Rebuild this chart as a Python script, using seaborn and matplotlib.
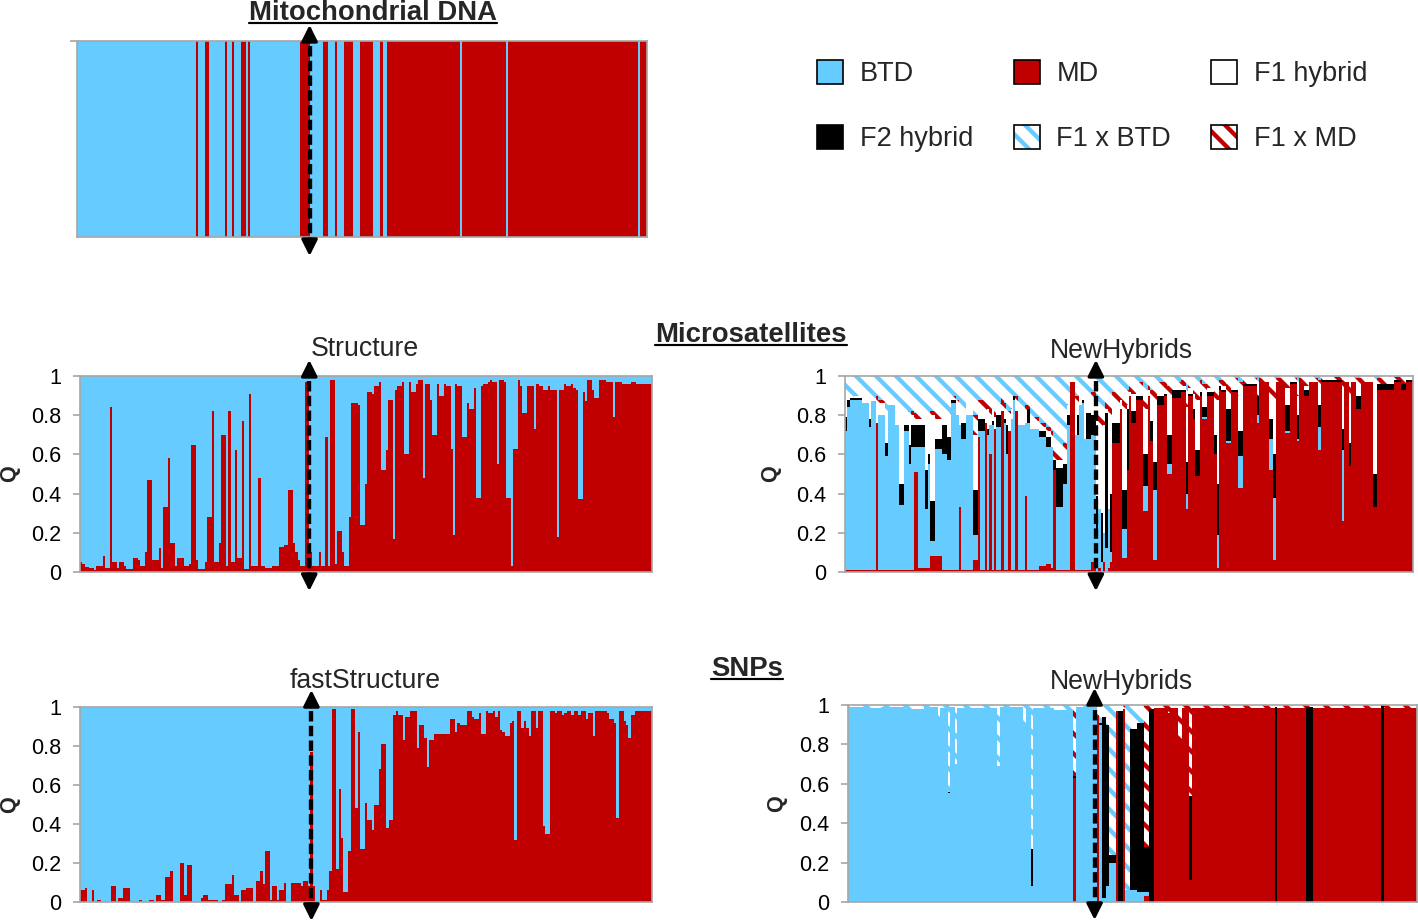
import numpy as np
import pandas as pd
import matplotlib
matplotlib.use("Agg")
import matplotlib.pyplot as plt
import matplotlib.transforms as mtransforms
from matplotlib.patches import Patch
from matplotlib.lines import Line2D
import seaborn as sns

# ---------------- data ----------------
# mtDNA haplotype of each individual, run-length coded (haplotype, count): 0 = BTD, 1 = MD
mt_runs = [(0, 52), (1, 1), (0, 3), (1, 2), (0, 7), (1, 1), (0, 2), (1, 1), (0, 3), (1, 2),
           (0, 1), (1, 1), (0, 22), (1, 4),
           (0, 6), (1, 2), (0, 3), (1, 1), (0, 3), (1, 4), (0, 3), (1, 6), (0, 3), (1, 1),
           (0, 2), (1, 32), (0, 1), (1, 19), (0, 1), (1, 57), (0, 1), (1, 3)]

# Structure (microsatellites): MD membership Q, run-length coded (Q, count)
structure_runs = [
    (0.05, 1), (0.04, 1), (0.025, 2), (0.02, 2), (0.01, 1), (0.03, 1), (0.03, 2), (0.08, 1), (0.02, 2),
    (0.84, 1), (0.05, 2), (0.02, 1), (0.05, 2), (0.03, 1), (0.015, 3), (0.07, 2), (0.06, 1), (0.03, 2),
    (0.10, 1), (0.47, 2), (0.06, 3), (0.12, 1), (0.02, 1), (0.33, 2), (0.58, 1), (0.15, 2), (0.03, 1),
    (0.07, 3), (0.03, 2), (0.04, 1), (0.65, 2), (0.06, 1), (0.015, 3), (0.05, 1), (0.28, 2), (0.82, 1),
    (0.05, 2), (0.15, 1), (0.70, 2), (0.03, 1), (0.82, 1), (0.05, 2), (0.62, 1), (0.07, 2), (0.77, 1),
    (0.015, 2), (0.91, 1), (0.03, 3), (0.48, 1), (0.03, 2), (0.02, 3), (0.03, 3), (0.13, 2), (0.14, 2),
    (0.42, 2), (0.15, 1), (0.10, 1), (0.06, 1), (0.03, 2), (0.97, 2),
    (0.10, 1), (0.03, 1), (0.03, 2), (0.10, 1), (0.03, 2), (0.69, 1), (0.03, 1), (0.98, 2), (0.04, 1),
    (0.21, 2), (0.10, 1), (0.03, 2), (0.28, 1), (0.86, 3), (0.85, 1), (0.24, 2), (0.45, 1), (0.92, 2),
    (0.91, 1), (0.95, 2), (0.97, 1), (0.52, 2), (0.62, 1), (0.88, 2), (0.17, 1), (0.93, 1), (0.95, 2),
    (0.97, 1), (0.60, 2), (0.97, 1), (0.92, 2), (0.96, 1), (0.98, 2), (0.48, 1), (0.96, 2), (0.88, 1),
    (0.70, 2), (0.96, 1), (0.90, 2), (0.96, 1), (0.95, 2), (0.63, 1), (0.19, 1), (0.96, 1), (0.95, 2),
    (0.69, 2), (0.86, 1), (0.83, 2), (0.94, 1), (0.38, 2), (0.95, 1), (0.96, 2), (0.97, 1), (0.98, 1),
    (0.97, 2), (0.55, 1), (0.98, 2), (0.97, 1), (0.38, 2), (0.03, 1), (0.63, 2), (0.98, 1), (0.95, 1),
    (0.81, 2), (0.95, 3), (0.73, 1), (0.96, 1), (0.95, 2), (0.93, 2), (0.95, 1), (0.93, 3), (0.18, 1),
    (0.93, 2), (0.96, 1), (0.95, 2), (0.96, 1), (0.94, 1), (0.93, 1), (0.37, 2), (0.92, 1), (0.87, 1),
    (0.98, 2), (0.93, 1), (0.89, 2), (0.98, 3), (0.97, 3), (0.79, 1), (0.97, 3), (0.96, 4), (0.97, 2),
    (0.96, 7)]

# fastStructure (SNPs): MD membership Q, run-length coded (Q, count)
faststructure_runs = [
    (0.06, 2), (0.07, 1), (0.0, 2), (0.06, 1), (0.0, 1), (0.01, 2), (0.0, 4), (0.08, 2), (0.0, 1),
    (0.02, 2), (0.07, 3), (0.0, 4), (0.01, 1), (0.0, 3), (0.01, 2), (0.0, 1), (0.035, 2), (0.01, 2),
    (0.13, 2), (0.16, 1), (0.0, 3), (0.20, 2), (0.035, 1), (0.19, 2), (0.0, 4), (0.02, 1), (0.035, 2),
    (0.01, 4), (0.0, 2), (0.01, 1), (0.09, 3), (0.14, 1), (0.035, 2), (0.0, 1), (0.06, 2), (0.07, 3),
    (0.0, 1), (0.11, 2), (0.16, 1), (0.09, 1), (0.26, 2), (0.01, 1), (0.08, 2), (0.01, 1), (0.06, 2),
    (0.10, 1), (0.0, 2), (0.10, 3), (0.10, 1), (0.08, 1), (0.11, 2), (0.08, 1), (0.77, 1),
    (0.08, 1), (0.0, 2), (0.06, 1), (0.01, 2), (0.06, 1), (0.16, 1), (0.99, 2), (0.17, 1), (0.58, 1),
    (0.33, 1), (0.05, 2), (0.26, 1), (0.99, 2), (0.48, 1), (0.87, 1), (0.27, 2), (0.51, 1), (0.42, 2),
    (0.37, 1), (0.50, 2), (0.68, 1), (0.81, 2), (0.38, 1), (0.42, 2), (0.96, 1), (0.98, 1), (0.96, 2),
    (0.83, 1), (0.95, 2), (0.98, 3), (0.79, 1), (0.91, 2), (0.84, 1), (0.69, 1), (0.83, 2), (0.86, 7),
    (0.94, 2), (0.87, 1), (0.92, 1), (0.91, 3), (0.98, 2), (0.95, 1), (0.94, 2), (0.97, 1), (0.86, 2),
    (0.98, 1), (0.97, 2), (0.98, 1), (0.95, 1), (0.98, 1), (0.88, 1), (0.87, 1), (0.85, 2), (0.92, 1),
    (0.93, 1), (0.32, 1), (0.98, 2), (0.89, 1), (0.93, 1), (0.89, 1), (0.85, 1), (0.98, 2), (0.89, 1),
    (0.98, 2), (0.39, 1), (0.35, 2), (0.98, 2), (0.97, 1), (0.98, 2), (0.96, 1), (0.97, 1), (0.98, 2),
    (0.96, 1), (0.98, 2), (0.96, 1), (0.98, 2), (0.94, 1), (0.97, 2), (0.85, 1), (0.98, 5), (0.97, 1),
    (0.94, 2), (0.92, 1), (0.43, 1), (0.98, 2), (0.93, 1), (0.91, 1), (0.84, 1), (0.96, 2), (0.98, 7)]

# NewHybrids posteriors, rows = (count, MD, BTD, F2, F1, F1xMD); F1xBTD is the rest up to 1
nh_micro_rows = [
    (1, .01, .71, .07, .09, 0), (1, .01, .83, .04, .01, 0), (2, .01, .87, .01, 0, 0),
    (3, .01, .87, .01, .01, 0), (3, .01, .85, 0, .04, 0), (1, .01, .73, .04, .10, 0),
    (2, .01, .86, 0, .02, 0), (1, .76, 0, 0, .10, .04), (3, .01, .79, 0, .06, .02),
    (1, .01, .58, .07, .14, 0), (3, .01, .84, 0, .03, 0), (2, .01, .74, 0, .07, .02),
    (2, .01, .33, .11, .35, .02), (2, .01, .71, .03, .05, .02), (1, .01, .54, .10, .10, .03),
    (1, .01, .63, .11, .05, .02), (2, .51, .13, .11, .03, .03), (3, .02, .62, .11, .03, .03),
    (1, .02, .30, .20, .25, .02), (1, .02, .53, .05, .18, .03), (2, .08, .08, .20, .44, .02),
    (3, .08, .55, .05, .10, .05), (2, .01, .59, .15, .05, .02), (2, .01, .56, .12, .10, .02),
    (2, .01, .85, .02, 0, .02), (1, .01, .79, 0, .05, .03), (1, .33, .42, 0, .07, .03),
    (2, .01, .67, .08, .05, .02), (3, .01, .79, 0, .06, .03), (2, .06, .13, .23, .28, .10),
    (1, .69, .03, .06, .05, .05), (2, .01, .71, .06, .05, .05), (1, .76, 0, 0, .06, .06),
    (1, .01, .69, .03, .10, .04), (1, .60, .15, 0, .05, .05), (1, .01, .74, .02, .06, .04),
    (1, .73, 0, 0, .06, .06), (2, .01, .73, .06, .03, .03), (1, .82, 0, 0, .02, .06),
    (1, .01, .75, .02, .05, .03), (1, .01, .59, .15, .02, .03), (1, .72, 0, 0, .05, .05),
    (1, .01, .77, 0, .05, .02), (1, .01, .87, .02, 0, 0), (1, .82, 0, 0, .04, .04),
    (3, .01, .74, 0, .06, .02), (1, .39, .37, 0, .05, .04), (1, .01, .75, .07, 0, .02),
    (4, .01, .72, 0, .04, .02), (3, .03, .66, .03, .02, .02), (2, .04, .60, .05, .03, .02),
    (1, .02, .62, 0, .05, .03), (1, .52, 0, .05, 0, .10), (3, .01, .32, .20, .04, .05),
    (2, .01, .44, .10, .06, .05), (1, .01, .74, .05, .05, .03), (2, .97, 0, 0, 0, 0),
    (1, .01, .69, 0, .15, .05), (1, .01, .69, .10, .05, .05), (1, .01, .84, 0, .05, 0),
    (1, .01, .85, .02, .02, .02), (1, .01, .67, 0, .20, .04), (2, .01, .67, .13, .05, .04),
    (2, .05, .65, .10, .08, .04),
    (1, 0, .19, .20, .41, .05), (1, .02, .30, 0, .38, .10), (1, 0, .05, .25, .40, .10),
    (1, .05, .15, 0, .55, .08), (1, 0, .12, .69, .02, .05), (1, .02, .30, 0, .45, .08),
    (1, .05, .05, .30, .40, .05), (3, .66, 0, .10, .09, .07), (1, .83, 0, 0, .05, .06),
    (2, .07, .15, .20, .41, .08), (1, .52, 0, .31, .02, .08), (1, .90, 0, 0, .02, .05),
    (2, .76, 0, .06, .09, .05), (3, .88, 0, .02, .03, .04), (2, .31, .13, .16, .23, .09),
    (1, .90, 0, 0, .03, .04), (1, .67, 0, .10, .08, .08), (2, .06, .36, .14, .29, .08),
    (3, .85, 0, .05, .02, .05), (1, .90, 0, .01, .02, .04), (2, .50, .05, .15, .17, .08),
    (4, .89, 0, .04, 0, .04), (2, .92, 0, .01, .02, .03), (1, .32, .08, .16, .28, .09),
    (2, .90, 0, .01, .03, .04), (1, .78, 0, .05, .08, .05), (2, .49, 0, .13, .26, .07),
    (1, .90, 0, .02, .02, .04), (2, .78, .01, .05, .06, .06), (3, .90, 0, .02, .02, .04),
    (1, .60, 0, .10, .18, .07), (1, .02, .17, .26, .43, .08), (1, .93, 0, .02, 0, .03),
    (2, .92, 0, .01, .02, .03), (2, .66, .01, .16, .07, .06), (3, .92, 0, .01, .03, .03),
    (2, .43, .16, .13, .18, .07), (6, .95, 0, .01, 0, .03), (1, .76, .04, .10, 0, .05),
    (4, .97, 0, 0, 0, .02), (2, .52, .16, .10, .12, .07), (1, .06, .32, .22, .23, .10),
    (4, .97, 0, 0, 0, .02), (2, .71, .01, .13, .09, .04), (3, .96, 0, .01, 0, .02),
    (1, .67, .01, .12, .10, .06), (2, .97, 0, 0, 0, .02), (2, .90, 0, .03, .02, .03),
    (4, .97, 0, 0, 0, .02), (1, .62, .12, .11, .09, .04), (9, .97, 0, .01, 0, .015),
    (1, .26, .36, .11, .21, .04), (2, .97, 0, 0, 0, .02), (1, .54, 0, .12, .25, .07),
    (2, .97, 0, 0, 0, .02), (2, .83, 0, .07, .06, .03), (5, .97, 0, 0, 0, .02),
    (2, .33, 0, .17, .43, .05), (7, .93, 0, .03, 0, .03), (3, .97, 0, .01, 0, .015),
    (2, .93, 0, .03, 0, .03), (3, .97, 0, .01, 0, .015)]

nh_snp_rows = [
    (8, 0, .99, 0, 0, 0), (6, 0, .985, 0, 0, 0), (10, 0, .99, 0, 0, 0), (8, 0, .98, 0, 0, 0),
    (6, 0, .99, 0, 0, 0), (1, 0, .94, 0, 0, 0), (3, 0, .985, 0, 0, 0), (1, 0, .555, .005, 0, 0),
    (2, 0, .99, 0, 0, 0), (1, 0, .70, 0, 0, 0), (17, 0, .985, 0, 0, 0), (1, 0, .69, 0, 0, 0),
    (10, 0, .99, 0, 0, 0), (1, 0, .91, 0, 0, 0), (2, 0, .985, 0, 0, 0), (1, 0, .08, .19, 0, 0),
    (9, 0, .985, 0, 0, 0), (8, 0, .975, 0, 0, 0), (1, .63, 0, .01, 0, .36), (8, 0, .99, 0, 0, 0),
    (1, 0, .99, 0, 0, 0), (1, .95, 0, 0, 0, .05), (1, 0, .90, .01, 0, 0), (2, 0, .02, .92, 0, 0),
    (1, 0, .08, .82, 0, 0), (3, 0, .20, .04, 0, 0), (1, .97, 0, 0, 0, .03), (2, 0, 0, .97, 0, 0),
    (1, .98, 0, 0, 0, .02), (2, 0, .06, 0, 0, 0), (3, 0, .06, .82, 0, 0), (3, 0, .05, .86, 0, 0),
    (2, .03, .02, .23, 0, .72), (2, 0, 0, .98, 0, .02), (6, .985, 0, 0, 0, .015), (1, .96, 0, 0, 0, .04),
    (3, .985, 0, 0, 0, .015), (2, .82, 0, 0, 0, .18), (3, .985, 0, 0, 0, .015), (1, .11, 0, .43, 0, .46),
    (35, .985, 0, 0, 0, .015), (1, 0, 0, .99, 0, .01), (12, .985, 0, 0, 0, .015), (3, 0, 0, .99, 0, .01),
    (29, .985, 0, 0, 0, .015), (1, 0, 0, 1, 0, 0), (14, .985, 0, 0, 0, .015)]

# position of the dashed arrow (in individuals from the left) in each panel
split_mt = 102
split_structure = 99
split_fast = 97.5
split_nh_micro = 106
split_nh_snp = 104

# ---------------- style ----------------
sns.set_theme(style="white")
plt.rcParams['font.family'] = ['Liberation Sans', 'DejaVu Sans']
plt.rcParams['hatch.linewidth'] = 2.6

BLUE = '#66CCFF'
RED = '#C00000'
FRAME = '#A6A6A6'
HATCH = '\\\\'

W, H, DPI = 1418, 923, 120
fig = plt.figure(figsize=(W / DPI, H / DPI), dpi=DPI)


def add_axes(x0, y0, x1, y1):
    return fig.add_axes([x0 / W, 1 - y1 / H, (x1 - x0) / W, (y1 - y0) / H])


def expand(runs):
    return np.concatenate([np.full(n, v, dtype=float) for v, n in runs])


def layer(ax, heights, fill, hatch_color=None):
    n0 = len(ax.patches)
    idx = np.arange(len(heights))
    sns.barplot(x=idx, y=heights, color=fill, width=1, saturation=1, linewidth=0,
                errorbar=None, ax=ax)
    for p in ax.patches[n0:]:
        p.set_antialiased(False)
        if hatch_color is not None:
            p.set_hatch(HATCH)
            p.set_edgecolor(hatch_color)
            p.set_linewidth(0)


def two_group(ax, q_md):
    layer(ax, np.ones_like(q_md), BLUE)
    layer(ax, q_md, RED)


def newhybrids(ax, rows):
    counts = [r[0] for r in rows]
    vals = np.repeat(np.array([r[1:] for r in rows], dtype=float), counts, axis=0)
    cum = np.cumsum(vals, axis=1)   # MD, +BTD, +F2, +F1, +F1xMD
    layer(ax, np.ones(len(vals)), 'white', BLUE)      # F1 x BTD fills to 1
    layer(ax, cum[:, 4], 'white', RED)                # F1 x MD
    layer(ax, cum[:, 3], 'white')                     # F1
    layer(ax, cum[:, 2], 'black')                     # F2
    layer(ax, cum[:, 1], BLUE)                        # BTD
    layer(ax, cum[:, 0], RED)                         # MD


def style_axes(ax, n, yticks=True, qx=-0.105):
    ax.set_xlim(-0.5, n - 0.5)
    ax.set_ylim(0, 1)
    ax.set_xticks([])
    ax.set_xlabel('')
    for s in ax.spines.values():
        s.set_color(FRAME)
        s.set_linewidth(1.0)
    if yticks:
        ax.set_yticks([0, 0.2, 0.4, 0.6, 0.8, 1])
        ax.set_yticklabels(['0', '0.2', '0.4', '0.6', '0.8', '1'])
        ax.tick_params(axis='y', left=True, length=4, width=1, color=FRAME,
                       labelsize=13, pad=7, labelcolor='black')
        ax.set_ylabel('Q', fontsize=13, fontweight='bold')
        ax.yaxis.set_label_coords(qx, 0.5)
    else:
        ax.set_yticks([1])
        ax.set_yticklabels([])
        ax.tick_params(axis='y', left=True, length=4, width=1, color=FRAME)
        ax.set_ylabel('')


def split_arrow(ax, s, top, bottom):
    tr = mtransforms.blended_transform_factory(ax.transData, ax.transAxes)
    x = s - 0.5
    ax.plot([x, x], [bottom + 0.04, top - 0.04], transform=tr, color='black', lw=2.6,
            ls=(0, (2.4, 1.0)), clip_on=False, zorder=6)
    for tip, base in ((top, top - 0.07), (bottom, bottom + 0.07)):
        ax.annotate('', xy=(x, tip), xytext=(x, base), xycoords=tr, textcoords=tr,
                    arrowprops=dict(arrowstyle='-|>', color='black', lw=2.0,
                                    mutation_scale=20, shrinkA=0, shrinkB=0),
                    annotation_clip=False, zorder=7)


# ---------------- panels ----------------
ax_mt = add_axes(77, 41, 647, 237)
mt = expand(mt_runs)
two_group(ax_mt, mt)
style_axes(ax_mt, len(mt), yticks=False)
split_arrow(ax_mt, split_mt, 1.082, -0.097)

ax_st = add_axes(80, 376, 652, 572)
q_st = expand(structure_runs)
two_group(ax_st, q_st)
style_axes(ax_st, len(q_st), qx=-0.105)
split_arrow(ax_st, split_structure, 1.082, -0.097)
ax_st.text(0.498, 1.10, 'Structure', transform=ax_st.transAxes, ha='center', va='baseline', fontsize=16)

ax_nm = add_axes(845, 376, 1413, 572)
newhybrids(ax_nm, nh_micro_rows)
style_axes(ax_nm, sum(r[0] for r in nh_micro_rows), qx=-0.113)
split_arrow(ax_nm, split_nh_micro, 1.082, -0.097)
ax_nm.text(0.486, 1.092, 'NewHybrids', transform=ax_nm.transAxes, ha='center', va='baseline', fontsize=16)

ax_fs = add_axes(80, 707, 652, 902)
q_fs = expand(faststructure_runs)
two_group(ax_fs, q_fs)
style_axes(ax_fs, len(q_fs), qx=-0.105)
split_arrow(ax_fs, split_fast, 1.087, -0.097)
ax_fs.text(0.498, 1.097, 'fastStructure', transform=ax_fs.transAxes, ha='center', va='baseline', fontsize=16)

ax_ns = add_axes(848, 705, 1417, 902)
newhybrids(ax_ns, nh_snp_rows)
style_axes(ax_ns, sum(r[0] for r in nh_snp_rows), qx=-0.107)
split_arrow(ax_ns, split_nh_snp, 1.086, -0.091)
ax_ns.text(0.48, 1.081, 'NewHybrids', transform=ax_ns.transAxes, ha='center', va='baseline', fontsize=16)

# ---------------- section titles (bold, underlined) ----------------
titles = [('Mitochondrial DNA', 373, 20), ('Microsatellites', 751, 342), ('SNPs', 747, 676)]
title_texts = [fig.text(x / W, 1 - y / H, t, ha='center', va='baseline', fontsize=16.5,
                        fontweight='bold') for t, x, y in titles]

# ---------------- legend ----------------
outline = dict(facecolor='none', edgecolor='black', linewidth=1.0)
handles = {
    'BTD': Patch(facecolor=BLUE, edgecolor='black', linewidth=1.0),
    'MD': Patch(facecolor=RED, edgecolor='black', linewidth=1.0),
    'F1 hybrid': Patch(facecolor='white', edgecolor='black', linewidth=1.0),
    'F2 hybrid': Patch(facecolor='black', edgecolor='black', linewidth=1.0),
    'F1 x BTD': (Patch(facecolor='white', edgecolor=BLUE, hatch=HATCH, linewidth=0), Patch(**outline)),
    'F1 x MD': (Patch(facecolor='white', edgecolor=RED, hatch=HATCH, linewidth=0), Patch(**outline)),
}
order = ['BTD', 'F2 hybrid', 'MD', 'F1 x BTD', 'F1 hybrid', 'F1 x MD']
fig.legend([handles[k] for k in order], order, loc='upper left',
           bbox_to_anchor=(817 / W, 1 - 60 / H), ncol=3, frameon=False, fontsize=16.3,
           handlelength=0.96, handleheight=0.96, handletextpad=0.62, columnspacing=1.48,
           labelspacing=1.4, borderpad=0, borderaxespad=0)

# underline the section titles
fig.canvas.draw()
renderer = fig.canvas.get_renderer()
for txt, (t, x, y) in zip(title_texts, titles):
    bb = txt.get_window_extent(renderer)
    yline = H - y - 3
    line = Line2D([bb.x0 / W, bb.x1 / W], [yline / H, yline / H], transform=fig.transFigure,
                  color='black', lw=1.3)
    fig.add_artist(line)

fig.savefig('out.png', dpi=DPI)
